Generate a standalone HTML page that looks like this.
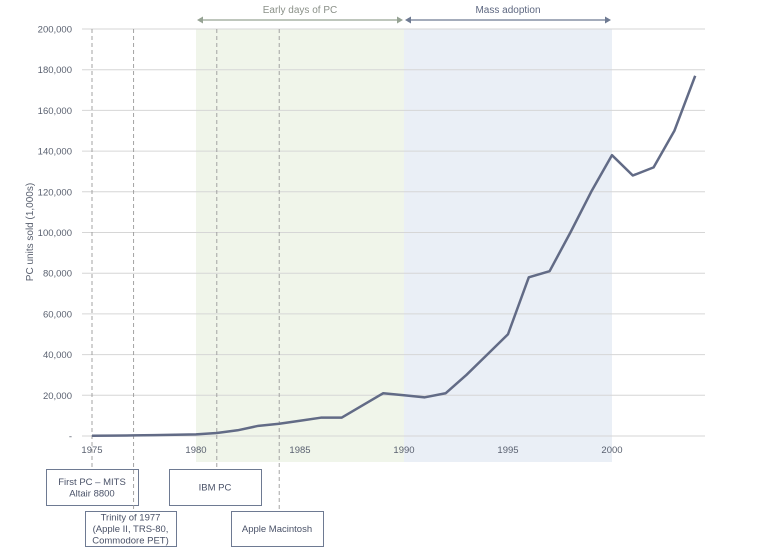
<!DOCTYPE html>
<html><head><meta charset="utf-8"><style>
body{margin:0;background:#fff;font-family:"Liberation Sans",sans-serif}
svg text{font-family:"Liberation Sans",sans-serif}
</style></head><body>
<svg width="772" height="553" viewBox="0 0 772 553">
<g id="bands"></g><g id="grid"></g><g id="ticks"></g><g id="events"></g><g id="series"></g>
<text transform="translate(33,232) rotate(-90)" text-anchor="middle" font-size="10" fill="#5a6170">PC units sold (1,000s)</text>
</svg>
<script>
const years=[1975,1976,1977,1978,1979,1980,1981,1982,1983,1984,1985,1986,1987,1988,1989,1990,1991,1992,1993,1994,1995,1996,1997,1998,1999,2000,2001,2002,2003,2004];
const sales=[100,200,300,400,600,800,1500,2800,5000,6000,7500,9000,9000,15000,21000,20000,19000,21000,30000,40000,50000,78000,81000,100000,120000,138000,128000,132000,150000,177000];
const yTicks=[0,20000,40000,60000,80000,100000,120000,140000,160000,180000,200000];
const xTicks=[1975,1980,1985,1990,1995,2000];
const periodNames=["Early days of PC","Mass adoption"];
const periodStart=[1980,1990];
const periodEnd=[1990,2000];
const eventYears=[1975,1977,1981,1984];
const eventLabels=[["First PC – MITS","Altair 8800"],["Trinity of 1977","(Apple II, TRS-80,","Commodore PET)"],["IBM PC"],["Apple Macintosh"]];
const NS="http://www.w3.org/2000/svg";
const x=v=>92+(v-1975)*20.8;
const y=v=>436-v*0.002035;
function mk(p,t,a){const e=document.createElementNS(NS,t);for(const k in a)e.setAttribute(k,a[k]);document.getElementById(p).appendChild(e);return e;}
const bandFill=["#f0f5ea","#eaeff6"],arrowCol=["#96a394","#6e7a92"];
periodNames.forEach((n,i)=>{
 const r=mk('bands','rect',{x:x(periodStart[i]),y:29,width:x(periodEnd[i])-x(periodStart[i]),height:433,fill:bandFill[i]});
 
 
 const x1=x(periodStart[i])+1,x2=x(periodEnd[i])-1;
 const l=mk('bands','line',{x1:x1+4,y1:20,x2:x2-4,y2:20,stroke:arrowCol[i],'stroke-width':1.2});
 
 
 mk('bands','path',{d:`M${x1},20 l6,-3.5 v7z M${x2},20 l-6,-3.5 v7z`,fill:arrowCol[i]});
 const t=mk('bands','text',{x:(x1+x2)/2,y:13,'text-anchor':'middle','font-size':10,fill:i?'#5d6780':'#8a9088'});
 t.textContent=n;
 
 
});
yTicks.forEach(v=>{
 const g=mk('grid','line',{x1:82,x2:705,y1:y(v),y2:y(v),stroke:'#d6d6d6','stroke-width':1});
 
 
 const t=mk('ticks','text',{x:72,y:y(v)+3.5,'text-anchor':'end','font-size':9.5,fill:'#5a6170'});
 t.textContent=v===0?'-':v.toLocaleString('en-US');
 
 
});
xTicks.forEach(v=>{
 const t=mk('ticks','text',{x:x(v),y:453,'text-anchor':'middle','font-size':9.5,fill:'#5a6170'});
 t.textContent=v;
 
 
});
const boxes=[[46,469,92,36],[85,511,91,35],[169,469,92,36],[231,511,92,35]];
eventYears.forEach((ev,i)=>{
 const b=boxes[i];
 const d=mk('events','line',{x1:x(ev),x2:x(ev),y1:29,y2:b[1],stroke:'#9a9a9a','stroke-dasharray':'4,3','stroke-width':0.9});
 
 
 const r=mk('events','rect',{x:b[0]+.5,y:b[1]+.5,width:b[2],height:b[3],fill:'#fff',stroke:'#6e7a92'});
 
 
 const L=eventLabels[i],cy=b[1]+b[3]/2,lh=11.5;
 L.forEach((s,j)=>{
  const t=mk('events','text',{x:b[0]+b[2]/2,y:cy+(j-(L.length-1)/2)*lh+3.5,'text-anchor':'middle','font-size':9.5,fill:'#4a5268'});
  t.textContent=s;
  
  
 });
});
const p=mk('series','polyline',{points:years.map((yr,i)=>x(yr)+','+y(sales[i])).join(' '),fill:'none',stroke:'#626b86','stroke-width':2.5,'stroke-linejoin':'round'});


</script>
</body></html>
